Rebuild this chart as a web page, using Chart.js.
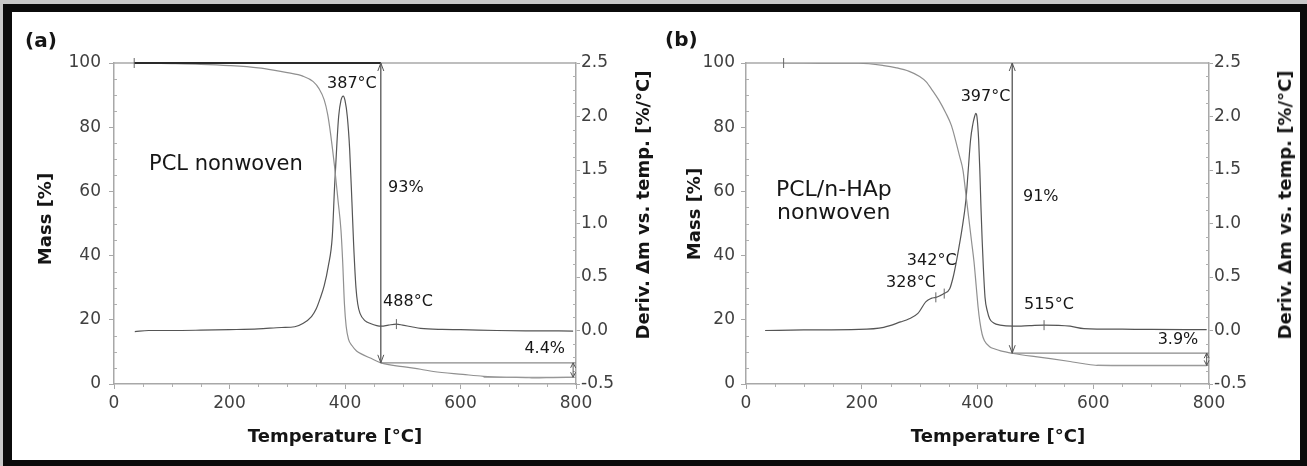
<!DOCTYPE html>
<html><head><meta charset="utf-8">
<script src="https://cdn.jsdelivr.net/npm/chart.js@4.4.1/dist/chart.umd.min.js"></script>
<style>
html,body{margin:0;padding:0;width:1307px;height:466px;overflow:hidden;background:#c8c8c8;}
#frame{position:absolute;left:3px;top:4px;width:1304px;height:462px;background:#0b0b0b;}
#inner{position:absolute;left:12px;top:12px;width:1288px;height:448px;background:#fff;}
canvas{position:absolute;}
.t{position:absolute;font-family:"DejaVu Sans",sans-serif;color:#151515;white-space:nowrap;line-height:1;}
.rot{transform:translate(-50%,-50%) rotate(-90deg);}
.hc{transform:translate(-50%,-50%);}
.lbl{transform:translateY(-50%);font-size:20px;font-weight:bold;}
.ttl{font-size:18px;font-weight:bold;}
</style></head>
<body>
<div id="frame"></div><div id="inner"></div>
<canvas id="ca" width="640" height="448" style="left:12px;top:12px"></canvas>
<canvas id="cb" width="648" height="448" style="left:652px;top:12px"></canvas>
<div class="t lbl" style="left:25px;top:40px">(a)</div>
<div class="t lbl" style="left:665px;top:39px">(b)</div>
<div class="t ttl rot" style="left:45px;top:219px">Mass [%]</div>
<div class="t ttl rot" style="left:694px;top:214px">Mass [%]</div>
<div class="t ttl rot" style="left:643px;top:205px">Deriv. Δm vs. temp. [%/°C]</div>
<div class="t ttl rot" style="left:1285px;top:205px">Deriv. Δm vs. temp. [%/°C]</div>
<div class="t ttl hc" style="left:335px;top:436px">Temperature [°C]</div>
<div class="t ttl hc" style="left:998px;top:436px">Temperature [°C]</div>
<script>
// ---------- DATA ----------
// Panel (a): PCL nonwoven
const tempA_mass = [35,60,100,150,200,250,276,300,327,345,355,364,370,375,382,388,393,396,399,402,406,412,420,429,445,462,500,531,553,604,640,680,713,727,760,795];
const massA      = [100,99.9,99.8,99.6,99.2,98.5,97.8,97,95.9,94.2,92,88.5,84,78,67.6,57,48,38,25,18,14,12,10.3,9.3,8,6.6,5.4,4.6,3.9,3.0,2.4,2.1,2.0,1.9,2.0,2.1];
const tempA_deriv = [36,60,100,150,200,250,290,313,327,342,350,357,364,371,378,382,386,389,393,397,400,404,408,412,415,419,422,426,435,444,455,463,475,489,500,515,531,568,600,663,720,795];
const derivA      = [-0.01,0,0,0.003,0.008,0.015,0.028,0.035,0.065,0.13,0.2,0.3,0.42,0.6,0.88,1.35,1.75,2.0,2.15,2.19,2.15,2.0,1.7,1.2,0.8,0.4,0.25,0.16,0.09,0.065,0.045,0.04,0.05,0.06,0.05,0.035,0.02,0.01,0.008,0.0,-0.003,-0.005];
// Panel (b): PCL/n-HAp nonwoven
const tempB_mass = [65,100,150,195,238,260,282,300,311,322,333,345,355,362,369,375,380,385,390,394,398,401,404,408,412,421,430,440,462,500,526,560,584,607,650,700,750,796];
const massB      = [100,100,99.98,99.95,99.2,98.5,97.4,95.8,94.2,91.5,88.5,84.5,80.5,76,71,66.5,59,51.5,44,38,30,24,19.5,15.5,13.5,11.6,10.9,10.3,9.5,8.5,7.9,7.0,6.3,5.8,5.75,5.7,5.7,5.7];
const tempB_deriv = [33,100,195,238,267,282,297,311,320,328,335,342,352,358,363,368,373,380,384,388,392,395,397,399,402,404,406,408,410,413,417,421,428,439,462,490,515,540,560,584,650,700,796];
const derivB      = [0,0.005,0.01,0.03,0.08,0.11,0.16,0.27,0.30,0.31,0.325,0.345,0.39,0.5,0.63,0.78,0.94,1.22,1.5,1.78,1.93,2.0,2.03,2.0,1.78,1.5,1.15,0.85,0.6,0.31,0.18,0.11,0.07,0.05,0.04,0.045,0.05,0.048,0.04,0.018,0.012,0.01,0.008];
// Axis ticks
const xTickLabels = [0,200,400,600,800];
const massTickLabels = [0,20,40,60,80,100];
const derivTickLabels = [-0.5,0.0,0.5,1.0,1.5,2.0,2.5];

// ---------- ANNOTATIONS (data coords) ----------
const annA = {
  topLine:[35,462], arrowT:462, arrowLow:6.6, upper:6.6, upperFrom:462, lower:2.1, lowerFrom:640, smallT:795,
  marks:[{t:35,axis:'y',v:100},{t:489,axis:'y2',v:0.06}],
  texts:[
    {s:'387°C',t:412,v:93.6,align:'center',size:16},
    {s:'93%',t:474.5,v:61,align:'left',size:16},
    {s:'488°C',t:466,v:25.6,align:'left',size:16},
    {s:'4.4%',t:781,v:10.8,align:'right',size:16},
    {s:'PCL nonwoven',t:60.6,v:68.5,align:'left',size:21}
  ]
};
const annB = {
  topLine:null, arrowT:460, arrowLow:9.6, upper:9.6, upperFrom:460, lower:5.8, lowerFrom:607, smallT:796,
  marks:[{t:65,axis:'y',v:100},{t:328,axis:'y2',v:0.31},{t:342.5,axis:'y2',v:0.345},{t:515,axis:'y2',v:0.05}],
  texts:[
    {s:'397°C',t:413.8,v:89.5,align:'center',size:16},
    {s:'91%',t:478.6,v:58.3,align:'left',size:16},
    {s:'342°C',t:320.9,v:38.4,align:'center',size:16},
    {s:'328°C',t:285,v:31.4,align:'center',size:16},
    {s:'515°C',t:523.5,v:24.6,align:'center',size:16},
    {s:'3.9%',t:781.5,v:13.7,align:'right',size:16},
    {s:'PCL/n-HAp',t:51.8,v:60.4,align:'left',size:22},
    {s:'nonwoven',t:53.6,v:53.3,align:'left',size:22}
  ]
};

Chart.defaults.font.family = '"DejaVu Sans", sans-serif';
const AX = '#a8a8a8';

function makeAnnot(c){
  return {
    id:'annot',
    beforeDatasetsDraw(chart){
      const {ctx, chartArea:a} = chart;
      ctx.save(); ctx.strokeStyle = AX; ctx.lineWidth = 1.5;
      ctx.beginPath(); ctx.moveTo(a.left, a.top); ctx.lineTo(a.right, a.top); ctx.stroke();
      // minor ticks (short, inward)
      ctx.lineWidth = 1; ctx.strokeStyle = '#b0b0b0';
      const sx = chart.scales.x, sy = chart.scales.y, s2 = chart.scales.y2;
      sx.ticks.forEach(t => { if (t.label === '') { const p = Math.round(sx.getPixelForValue(t.value)) + 0.5; ctx.beginPath(); ctx.moveTo(p, a.bottom); ctx.lineTo(p, a.bottom + 3); ctx.stroke(); } });
      sy.ticks.forEach(t => { if (t.label === '') { const p = Math.round(sy.getPixelForValue(t.value)) + 0.5; ctx.beginPath(); ctx.moveTo(a.left, p); ctx.lineTo(a.left + 3, p); ctx.stroke(); } });
      s2.ticks.forEach(t => { if (t.label === '') { const p = Math.round(s2.getPixelForValue(t.value)) + 0.5; ctx.beginPath(); ctx.moveTo(a.right, p); ctx.lineTo(a.right - 3, p); ctx.stroke(); } });
      ctx.restore();
    },
    afterDatasetsDraw(chart){
      const ctx = chart.ctx, sx = chart.scales.x, sy = chart.scales.y, s2 = chart.scales.y2;
      const X = v => sx.getPixelForValue(v), Y = v => sy.getPixelForValue(v), Y2 = v => s2.getPixelForValue(v);
      const line = (x1,y1,x2,y2,col,w) => { ctx.strokeStyle=col; ctx.lineWidth=w; ctx.beginPath(); ctx.moveTo(x1,y1); ctx.lineTo(x2,y2); ctx.stroke(); };
      const head = (x,y,dir,col,hw,hl) => { ctx.strokeStyle=col; ctx.lineWidth=1; ctx.beginPath(); ctx.moveTo(x-hw,y-dir*hl); ctx.lineTo(x,y); ctx.lineTo(x+hw,y-dir*hl); ctx.stroke(); };
      ctx.save();
      if (c.topLine) line(X(c.topLine[0]), Y(100), X(c.topLine[1]), Y(100), '#2a2a2a', 1.8);
      line(X(c.upperFrom), Y(c.upper), X(800), Y(c.upper), '#8a8a8a', 1.2);
      line(X(c.lowerFrom), Y(c.lower), X(800), Y(c.lower), '#9a9a9a', 1.2);
      const ax = X(c.arrowT);
      line(ax, Y(100), ax, Y(c.arrowLow), '#555', 1.3);
      head(ax, Y(100), -1, '#555', 3, 8);
      head(ax, Y(c.arrowLow), 1, '#555', 3, 8);
      const bx = X(c.smallT);
      line(bx, Y(c.upper), bx, Y(c.lower), '#555', 1);
      head(bx, Y(c.upper), -1, '#555', 2.5, 5);
      head(bx, Y(c.lower), 1, '#555', 2.5, 5);
      c.marks.forEach(m => {
        const px = X(m.t), py = m.axis==='y' ? Y(m.v) : Y2(m.v);
        line(px, py-5, px, py+5, '#666', 1);
      });
      ctx.fillStyle = '#161616'; ctx.textBaseline = 'middle';
      c.texts.forEach(tx => {
        ctx.font = tx.size + 'px "DejaVu Sans"';
        ctx.textAlign = tx.align;
        ctx.fillText(tx.s, X(tx.t), Y(tx.v));
      });
      ctx.restore();
    }
  };
}

function pts(ts, vs){ return ts.map((t,i)=>({x:t, y:vs[i]})); }
const near = (v, arr) => arr.some(a => Math.abs(a - v) < 1e-9);
const majorCol = ctx => (ctx.tick && ctx.tick.label !== '') ? AX : 'rgba(0,0,0,0)';

function makeChart(id, mT, mV, dT, dV, L, R, lPad, ann){
  return new Chart(document.getElementById(id), {
    type:'line',
    data:{datasets:[
      {data:pts(mT,mV), yAxisID:'y', borderColor:'#909090', borderWidth:1.2, pointRadius:0, cubicInterpolationMode:'monotone', fill:false},
      {data:pts(dT,dV), yAxisID:'y2', borderColor:'#555555', borderWidth:1.2, pointRadius:0, cubicInterpolationMode:'monotone', fill:false}
    ]},
    options:{
      responsive:false, animation:false, events:[],
      layout:{padding:{top:51,left:0,right:0,bottom:0}},
      plugins:{legend:{display:false}, tooltip:{enabled:false}},
      scales:{
        x:{type:'linear', min:0, max:800, afterFit:s=>{s.height=76;},
           ticks:{stepSize:50, autoSkip:false, maxRotation:0, padding:4, color:'#404040', font:{size:17},
                  callback:v=> near(v, xTickLabels) ? String(v) : ''},
           grid:{display:true, drawOnChartArea:false, tickLength:5, tickColor:majorCol, color:AX, lineWidth:1},
           border:{display:true, color:AX, width:1.5}},
        y:{type:'linear', position:'left', min:0, max:100, afterFit:s=>{s.width=L;},
           ticks:{stepSize:5, autoSkip:false, padding:lPad, color:'#404040', font:{size:17},
                  callback:v=> near(v, massTickLabels) ? String(v) : ''},
           grid:{display:true, drawOnChartArea:false, tickLength:5, tickColor:majorCol, color:AX, lineWidth:1},
           border:{display:true, color:AX, width:1.5}},
        y2:{type:'linear', position:'right', min:-0.5, max:2.5, afterFit:s=>{s.width=R;},
           ticks:{stepSize:0.125, autoSkip:false, padding:1, color:'#404040', font:{size:17},
                  callback:v=> near(v, derivTickLabels) ? v.toFixed(1) : ''},
           grid:{display:true, drawOnChartArea:false, tickLength:4, tickColor:majorCol, color:AX, lineWidth:1},
           border:{display:true, color:AX, width:1.5}}
      }
    },
    plugins:[makeAnnot(ann)]
  });
}

makeChart('ca', tempA_mass, massA, tempA_deriv, derivA, 102, 76, 8, annA);
makeChart('cb', tempB_mass, massB, tempB_deriv, derivB, 94, 91, 6, annB);
</script>
</body></html>
